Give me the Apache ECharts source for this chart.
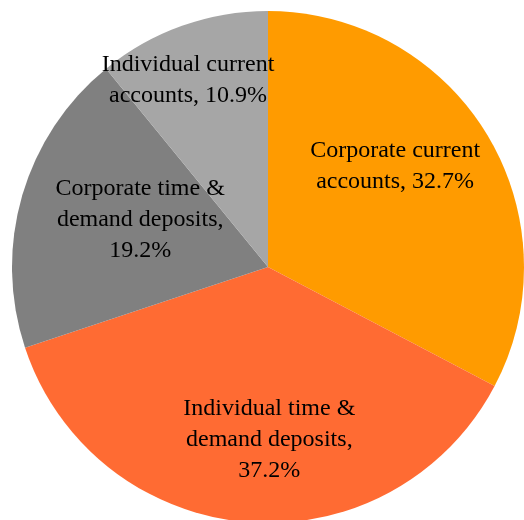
<!DOCTYPE html>
<html>
<head>
<meta charset="utf-8">
<script src="https://cdn.jsdelivr.net/npm/echarts@6/dist/echarts.min.js"></script>
<style>
  html, body { margin: 0; padding: 0; background: #fff; }
  #main { width: 524px; height: 520px; }
</style>
</head>
<body>
<div id="main"></div>
<script>
var names = [
  "Corporate current\naccounts",
  "Individual time &\ndemand deposits",
  "Corporate time &\ndemand deposits",
  "Individual current\naccounts"
];
var values = [32.7, 37.2, 19.2, 10.9];
var colors = ["#FF9B00", "#FF6B33", "#808080", "#A6A6A6"];
// value on its own line?
var valueOnNewLine = [false, true, true, false];
// nudge labels to where the original had them
var labelOffsets = [[15, -33], [12, 42], [-2, -11], [-36, -63]];

var myChart = echarts.init(document.getElementById("main"));

var data = [];
for (var i = 0; i < values.length; i++) {
  data.push({
    name: names[i],
    value: values[i],
    itemStyle: { color: colors[i] },
    label: { offset: labelOffsets[i] }
  });
}

var option = {
  animation: false,
  series: [{
    type: "pie",
    center: [268, 267],
    radius: 256,
    startAngle: 90,
    clockwise: true,
    avoidLabelOverlap: false,
    itemStyle: { borderWidth: 0 },
    label: {
      show: true,
      position: "inside",
      color: "#000",
      fontFamily: "Liberation Serif",
      fontSize: 24,
      lineHeight: 31,
      align: "center",
      formatter: function (p) {
        var sep = valueOnNewLine[p.dataIndex] ? ",\n" : ", ";
        return p.name + sep + p.value.toFixed(1) + "%";
      }
    },
    labelLine: { show: false },
    data: data
  }]
};

myChart.setOption(option);
</script>
</body>
</html>
